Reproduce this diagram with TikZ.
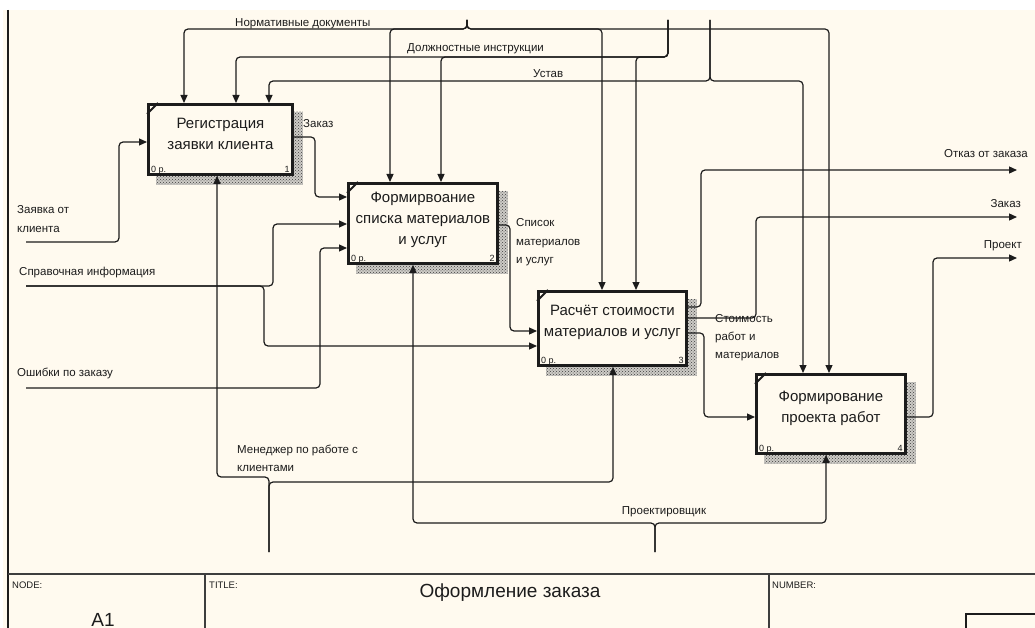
\documentclass[tikz,border=0pt]{standalone}
\usepackage{fontspec}
\setmainfont{Liberation Sans}
\usetikzlibrary{arrows.meta,patterns}
\definecolor{paper}{RGB}{255,250,239}
\definecolor{ink}{RGB}{28,28,28}
\definecolor{hatch}{RGB}{60,60,60}
\definecolor{hatchbg}{RGB}{205,203,198}
\pgfdeclarelayer{back}
\pgfsetlayers{back,main}

% IDEF0 function block: name, left, top, width, height, number, text drop, text
\newcommand{\fnblock}[8]{%
  \node[fnbox, minimum width=#4pt, minimum height=#5pt, anchor=north west] (#1) at (#2,#3) {};
  \begin{pgfonlayer}{back}
    \fill[hatchbg]
      ([shift={(9pt,-9pt)}]#1.north west) rectangle ([shift={(9pt,-9pt)}]#1.south east);
    \fill[pattern=crosshatch dots, pattern color=hatch]
      ([shift={(9pt,-9pt)}]#1.north west) rectangle ([shift={(9pt,-9pt)}]#1.south east);
  \end{pgfonlayer}
  \draw[ink, line width=1.8pt] ([yshift=-11pt]#1.north west) -- ([xshift=11pt]#1.north west);
  \node[boxtext, anchor=north] (#1t) at ([yshift=-#7pt]#1.north) {#8};
  \node[cost, anchor=base west] (#1c) at ([shift={(4pt,3pt)}]#1.south west) {0 р.};
  \node[cost, anchor=base east] (#1n) at ([shift={(-4pt,3pt)}]#1.south east) {#6};
}

\begin{document}
\begin{tikzpicture}[x=1pt,y=-1pt,
  flow/.style={draw=ink, line width=1.2pt, rounded corners=4pt},
  arr/.style={flow, -{Triangle[length=8pt,width=7pt]}},
  fnbox/.style={draw=ink, fill=paper, line width=2.8pt, inner sep=0pt},
  boxtext/.style={font=\fontsize{15}{21}\selectfont, align=center, inner sep=0pt, text=ink},
  cost/.style={font=\fontsize{9}{10}\selectfont, inner sep=0pt, text=ink},
  lbl/.style={font=\fontsize{11.5}{14}\selectfont, inner sep=0pt, text=ink},
  frame/.style={font=\fontsize{9.5}{11}\selectfont, inner sep=0pt, text=ink},
  big/.style={font=\fontsize{19}{22}\selectfont, inner sep=0pt, text=ink}
]
\useasboundingbox (0,0) rectangle (1035,628);
\begin{pgfonlayer}{back}
  \fill[white] (0,0) rectangle (1035,628);
  \fill[paper] (3,10) rectangle (1035,628);
\end{pgfonlayer}

% sheet frame and title block
\draw[ink, line width=2.2pt] (8,10) -- (8,628);
\draw[ink!85, line width=1.3pt] (8,574) -- (1035,574);
\draw[ink!85, line width=1.2pt] (205,574) -- (205,628);
\draw[ink!85, line width=1.2pt] (769,574) -- (769,628);
\draw[ink, line width=1.5pt] (966,614) rectangle (1040,640);
\node[frame, anchor=base west] (fNode) at (12,588) {NODE:};
\node[frame, anchor=base west] (fTitle) at (209,588) {TITLE:};
\node[frame, anchor=base west] (fNum) at (772,588) {NUMBER:};
\node[big, anchor=base] (fA1) at (103,626) {A1};
\node[big, anchor=base] (fName) at (510,597) {Оформление заказа};

% function blocks
\fnblock{b1}{147}{103}{144}{70}{1}{15}{Регистрация\\заявки клиента}
\fnblock{b2}{347}{182}{149}{80}{2}{10}{Формирвоание\\списка материалов\\и услуг}
\fnblock{b3}{537}{290}{148}{74}{3}{15}{Расчёт стоимости\\материалов и услуг}
\fnblock{b4}{755}{373}{149}{79}{4}{18}{Формирование\\проекта работ}

% boundary ends of the arrows
\coordinate (sNorm) at (467,20);
\coordinate (sDolzh) at (668,20);
\coordinate (sUstav) at (710,20);
\coordinate (sZayav) at (26,242);
\coordinate (sSprav) at (26,286);
\coordinate (sOshib) at (26,388);
\coordinate (sMen) at (269,552);
\coordinate (sProekt) at (655,552);
\coordinate (oOtkaz) at (1017,170);
\coordinate (oZakaz) at (1017,217);
\coordinate (oProekt) at (1017,258);

% controls
\draw[arr] (sNorm) |- (184,29) -- (184,0 |- b1.north);
\draw[arr] (sNorm) |- (390,29) -- (390,0 |- b2.north);
\draw[arr] (sNorm) |- (602,29) -- (602,0 |- b3.north);
\draw[arr] (sNorm) |- (829,29) -- (829,0 |- b4.north);
\draw[arr] (sDolzh) |- (236,57) -- (236,0 |- b1.north);
\draw[arr] (sDolzh) |- (441,57) -- (441,0 |- b2.north);
\draw[arr] (sDolzh) |- (636,57) -- (636,0 |- b3.north);
\draw[arr] (sUstav) |- (269,81) -- (269,0 |- b1.north);
\draw[arr] (sUstav) |- (803,81) -- (803,0 |- b4.north);

% inputs
\draw[arr] (sZayav) -| (119,142) -- (b1.west |- 0,142);
\draw[arr] (sSprav) -| (273,224) -- (b2.west |- 0,224);
\draw[arr] (sSprav) -| (264,346) -- (b3.west |- 0,346);
\draw[arr] (sOshib) -| (320,248) -- (b2.west |- 0,248);

% outputs
\draw[arr] (b1.east |- 0,137) -| (315,197) -- (b2.west |- 0,197);
\draw[arr] (b2.east |- 0,225) -| (510,331) -- (b3.west |- 0,331);
\draw[arr] (b3.east |- 0,307) -| (701,170) -- (oOtkaz);
\draw[arr] (b3.east |- 0,318) -| (756,217) -- (oZakaz);
\draw[arr] (b3.east |- 0,333) -| (704,417) -- (b4.west |- 0,417);
\draw[arr] (b4.east |- 0,417) -| (933,258) -- (oProekt);

% mechanisms
\draw[arr] (sMen) |- (217,477) -- (217,0 |- b1.south);
\draw[arr] (sMen) |- (613,482) -- (613,0 |- b3.south);
\draw[arr] (sProekt) |- (413,523) -- (413,0 |- b2.south);
\draw[arr] (sProekt) |- (826,523) -- (826,0 |- b4.south);

% arrow labels
\node[lbl, anchor=base west] (lNorm) at (235,27) {Нормативные документы};
\node[lbl, anchor=base west] (lDolzh) at (407,52) {Должностные инструкции};
\node[lbl, anchor=base west] (lUstav) at (533,78) {Устав};
\node[lbl, anchor=base west] (lZak1) at (303,128) {Заказ};
\node[lbl, anchor=base west] (lZay1) at (17,214) {Заявка от};
\node[lbl, anchor=base west] (lZay2) at (17,233) {клиента};
\node[lbl, anchor=base west] (lSprav) at (19,275) {Справочная информация};
\node[lbl, anchor=base west] (lOsh) at (17,376) {Ошибки по заказу};
\node[lbl, anchor=base west] (lMen1) at (237,453) {Менеджер по работе с};
\node[lbl, anchor=base west] (lMen2) at (237,471) {клиентами};
\node[lbl, anchor=base west] (lSp1) at (516,227) {Список};
\node[lbl, anchor=base west] (lSp2) at (516,245) {материалов};
\node[lbl, anchor=base west] (lSp3) at (516,263) {и услуг};
\node[lbl, anchor=base west] (lSt1) at (715,322) {Стоимость};
\node[lbl, anchor=base west] (lSt2) at (715,340) {работ и};
\node[lbl, anchor=base west] (lSt3) at (715,358) {материалов};
\node[lbl, anchor=base east] (lOtk) at (1028,158) {Отказ от заказа};
\node[lbl, anchor=base east] (lZak2) at (1021,208) {Заказ};
\node[lbl, anchor=base east] (lPr) at (1022,248) {Проект};
\node[lbl, anchor=base] (lProj) at (664,514) {Проектировщик};
\end{tikzpicture}
\end{document}
